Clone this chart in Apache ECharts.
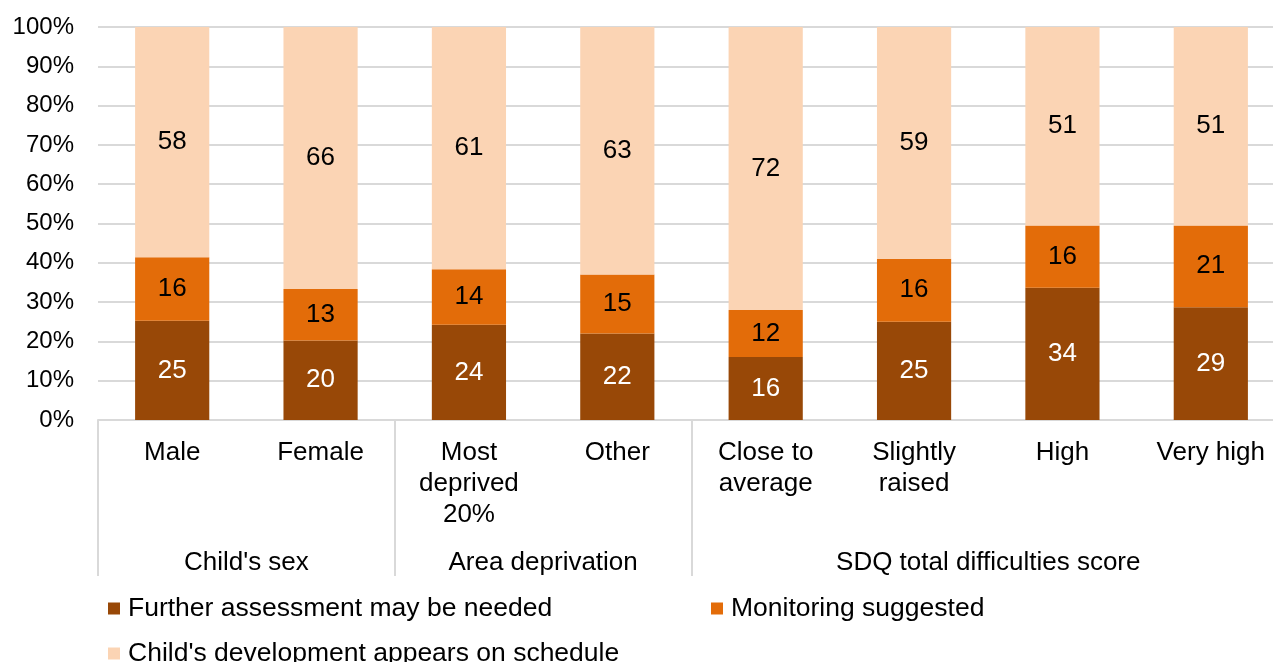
<!DOCTYPE html>
<html><head><meta charset="utf-8">
<script src="https://cdn.jsdelivr.net/npm/echarts@6/dist/echarts.min.js"></script>
<style>html,body{margin:0;padding:0;background:#fff;overflow:hidden}#c{width:1300px;height:662px}</style>
</head><body><div id="c"></div>
<script>
var categories = ['Male', 'Female', 'Most\ndeprived\n20%', 'Other', 'Close to\naverage', 'Slightly\nraised', 'High', 'Very high'];
var groups = ["Child's sex", 'Area deprivation', 'SDQ total difficulties score'];
var groupSizes = [2, 2, 4];
var seriesNames = ['Further assessment may be needed', 'Monitoring suggested', "Child's development appears on schedule"];
var further = [25, 20, 24, 22, 16, 25, 34, 29];
var monitoring = [16, 13, 14, 15, 12, 16, 16, 21];
var schedule = [58, 66, 61, 63, 72, 59, 51, 51];
var yTicks = [0, 10, 20, 30, 40, 50, 60, 70, 80, 90, 100];

var raw = [further, monitoring, schedule];
var totals = categories.map(function (_, i) { return further[i] + monitoring[i] + schedule[i]; });
var colors = ['#984807', '#E36C09', '#FBD4B4'];
var labelColors = ['#ffffff', '#000000', '#000000'];
var FONT = '"Liberation Sans", Arial, sans-serif';

var bounds = [0], centres = [];
groupSizes.reduce(function (acc, n) { centres.push(acc + n / 2); bounds.push(acc + n); return acc + n; }, 0);

var series = raw.map(function (arr, s) {
  return {
    name: seriesNames[s], type: 'bar', stack: 'total', xAxisIndex: 0,
    barCategoryGap: '50%',
    itemStyle: { color: colors[s] },
    label: {
      show: true, position: 'inside', color: labelColors[s], fontSize: 26, fontFamily: FONT,
      formatter: function (p) { return String(arr[p.dataIndex]); }
    },
    data: arr.map(function (v, i) { return v / totals[i] * 100; })
  };
});

function legendAt(name, left, top) {
  return { data: [name], left: left, top: top, icon: 'rect', itemWidth: 12, itemHeight: 12, itemGap: 0, padding: 0,
    textStyle: { fontSize: 26.5, color: '#000', fontFamily: FONT, padding: [0, 0, 0, 3] } };
}

var chart = echarts.init(document.getElementById('c'));
chart.setOption({
  animation: false,
  textStyle: { fontFamily: FONT },
  grid: { left: 98, top: 27, right: 15, bottom: 242, containLabel: false },
  legend: [
    legendAt(seriesNames[0], 108, 595),
    legendAt(seriesNames[1], 711, 595),
    legendAt(seriesNames[2], 108, 640)
  ],
  xAxis: [
    {
      type: 'category', data: categories, position: 'bottom',
      axisLine: { show: true, lineStyle: { color: '#D9D9D9', width: 2 } },
      axisTick: { show: false },
      axisLabel: { interval: 0, color: '#000', fontSize: 26, lineHeight: 31, margin: 17, fontFamily: FONT, verticalAlign: 'top' }
    },
    {
      type: 'value', min: 0, max: categories.length, position: 'bottom', offset: 0,
      axisLine: { show: false },
      splitLine: { show: false },
      axisTick: { show: true, customValues: bounds, length: 156, lineStyle: { color: '#D9D9D9', width: 2 } },
      axisLabel: {
        show: true, customValues: centres, margin: 130, color: '#000', fontSize: 26, fontFamily: FONT,
        formatter: function (v) { return groups[centres.indexOf(v)]; }
      }
    }
  ],
  yAxis: {
    type: 'value', min: 0, max: 100, interval: 10,
    axisLine: { show: false }, axisTick: { show: false },
    splitLine: { lineStyle: { color: '#D9D9D9', width: 2 } },
    axisLabel: { color: '#000', fontSize: 24, margin: 24, fontFamily: FONT,
      formatter: function (v) { return yTicks.indexOf(v) >= 0 ? v + '%' : ''; } }
  },
  series: series
});
</script></body></html>
